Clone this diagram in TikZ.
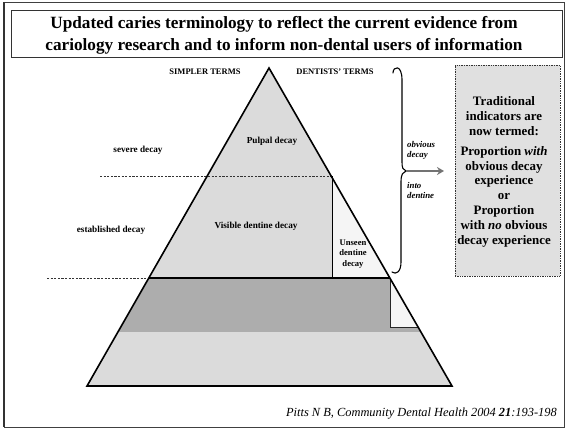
\documentclass[tikz,border=0pt]{standalone}
\usepackage{fontspec}
\setmainfont{Liberation Serif}
\usetikzlibrary{arrows.meta}

\tikzset{
  frameline/.style={draw=black!75, line width=1pt},
  stipple/.style={fill=black!14},
  lightzone/.style={fill=black!4},
  hatchband/.style={fill=black!32},
  pyroutline/.style={draw=black, line width=1.6pt, line join=miter},
  levelline/.style={draw=black!80, line width=0.7pt, dash pattern=on 2.2pt off 1.4pt},
  termlabel/.style={font=\fontsize{9.2}{10}\selectfont\bfseries, align=center, inner sep=0pt},
  headlabel/.style={font=\fontsize{8.5}{10}\selectfont\bfseries, inner sep=0pt},
  sidelabel/.style={font=\fontsize{8.8}{10}\selectfont\bfseries\itshape, align=left, anchor=west, inner sep=0pt},
  infobox/.style={draw=black!80, line width=0.7pt, densely dotted, fill=black!12},
}

\begin{document}
\begin{tikzpicture}[x=1pt, y=-1pt]
\useasboundingbox (0,0) rectangle (565,429);

% slide frame and title box
\draw[frameline] (4,2) rectangle (564,427);
\draw[black!80, line width=2pt] (4,2) -- (4,427);
\draw[black!80, line width=0.8pt] (11,10) rectangle (562,57);
\node[font=\fontsize{17.2}{22}\selectfont\bfseries, align=center, inner sep=0pt] (title) at (284,35)
  {Updated caries terminology to reflect the current evidence from\\
   cariology research and to inform non-dental users of information};

% pyramid corners
\coordinate (apex) at (269,68);
\coordinate (bl) at (87,386);
\coordinate (br) at (452,386);

% upper part of the pyramid
\fill[stipple] (apex) -- (148.8,278) -- (389.9,278) -- cycle;
% unseen dentine wedge
\fill[lightzone] (332,176) -- (332,278) -- (389.9,278) -- (331.2,176) -- cycle;
% cross-hatched band
\fill[hatchband] (148.8,278) -- (389.9,278) -- (390,327) -- (418,327) -- (420.9,332) -- (117.9,332) -- cycle;
% notch continuing the unseen column
\fill[lightzone] (390,278) -- (390,327) -- (418,327) -- cycle;
% lower part of the pyramid
\fill[stipple] (117.9,332) -- (420.9,332) -- (br) -- (bl) -- cycle;

% level lines
\draw[levelline] (100,176) -- (331.2,176);
\draw[levelline] (47,278) -- (148.8,278);
\draw[black, line width=1.2pt] (148.8,278) -- (389.9,278);
\draw[black, line width=1pt] (332,176) -- (332,278);
\draw[black!85, line width=0.7pt] (390,278) -- (390,327) -- (418,327);

% pyramid outline
\draw[pyroutline] (apex) -- (bl) -- (br) -- cycle;

% column headings
\node[headlabel] (simpler) at (205,72) {SIMPLER TERMS};
\node[headlabel] (dentists) at (335,72) {DENTISTS' TERMS};

% terms on the left
\node[termlabel] (severe) at (138,150) {severe decay};
\node[termlabel] (established) at (111,230) {established decay};

% terms inside the pyramid
\node[termlabel] (pulpal) at (272,141) {Pulpal decay};
\node[termlabel] (visible) at (256,226) {Visible dentine decay};
\node[termlabel, font=\fontsize{8.6}{10.8}\selectfont\bfseries] (unseen) at (353,254) {Unseen\\dentine\\decay};

% brace grouping the dentine levels
\coordinate (bracetip) at (406,171);
\draw[black, line width=1.1pt, line cap=round]
  (393,73) .. controls (393,66) and (402,64) .. (402,80)
  -- (402,162) .. controls (402,168) and (403,170) .. (bracetip)
  .. controls (403,172) and (401,174) .. (401,182)
  -- (401,262) .. controls (401,272) and (396,275) .. (392,272);
\node[sidelabel] (obvious) at (407,150) {obvious\\decay};
\node[sidelabel] (intodentine) at (407,190) {into\\dentine};

% information box
\node[infobox, minimum width=105pt, minimum height=211pt, inner sep=0pt] (info) at (507.5,170.5) {};
\node[font=\fontsize{12.9}{14.8}\selectfont\bfseries, align=center, inner sep=0pt] (infotext) at (504,172)
  {Traditional\\indicators are\\now termed:\\[5pt]
   Proportion \textit{with}\\obvious decay\\experience\\or\\Proportion\\with \textit{no} obvious\\decay experience};

\coordinate (arrowend) at (444,171);
\draw[black!55, line width=2.4pt, -{Stealth[length=7pt,width=8pt]}] (bracetip) -- (arrowend);

% reference
\node[anchor=east, font=\fontsize{12.4}{14}\selectfont\itshape, inner sep=0pt] (cite) at (557,414)
  {Pitts N B, Community Dental Health 2004 \textbf{21}:193-198};
\end{tikzpicture}
\end{document}
